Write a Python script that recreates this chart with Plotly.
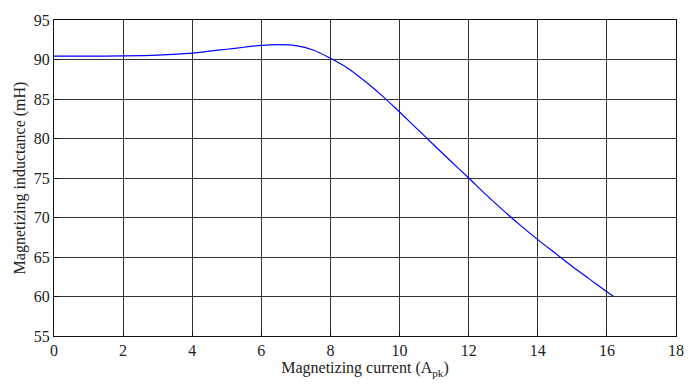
import plotly.graph_objects as go

current = [0, 1, 2, 3, 4, 4.5, 5, 5.5, 6, 6.5, 7, 7.5, 8, 8.5, 9, 9.5, 10,
           10.5, 11, 11.5, 12, 12.5, 13, 13.5, 14, 14.5, 15, 15.5, 16, 16.2]
inductance = [90.42, 90.42, 90.45, 90.55, 90.8, 91.05, 91.3, 91.55, 91.78, 91.88,
              91.75, 91.2, 90.15, 88.9, 87.25, 85.4, 83.35, 81.25, 79.15, 77.05,
              75.0, 72.9, 70.9, 69.0, 67.2, 65.5, 63.8, 62.2, 60.6, 60.0]

x_ticks = [0, 2, 4, 6, 8, 10, 12, 14, 16, 18]
y_ticks = [55, 60, 65, 70, 75, 80, 85, 90, 95]

fig = go.Figure()
fig.add_trace(go.Scatter(x=current, y=inductance, mode="lines",
                         line=dict(color="#0000ff", width=1.2, shape="spline", smoothing=1.0),
                         showlegend=False))

tick_font = dict(family="Liberation Serif", size=16, color="#222222")
title_font = dict(family="Liberation Serif", size=16, color="#222222")
axis_common = dict(showgrid=True, gridcolor="#333333", gridwidth=1,
                   showline=True, linecolor="#111111", linewidth=1.2, mirror=True,
                   ticks="inside", ticklen=5, tickcolor="#111111",
                   zeroline=False, tickfont=tick_font)
fig.update_xaxes(range=[0, 18], tickvals=x_ticks, **axis_common,
                 title=dict(text="Magnetizing current (A<sub>pk</sub>)", font=title_font, standoff=2))
fig.update_yaxes(range=[55, 95], tickvals=y_ticks, **axis_common,
                 title=dict(text="Magnetizing inductance (mH)", font=title_font, standoff=4))
fig.update_layout(width=696, height=386, margin=dict(l=54, r=20, t=13, b=50),
                  plot_bgcolor="white", paper_bgcolor="white", font=tick_font)
fig.write_html("out.html")
